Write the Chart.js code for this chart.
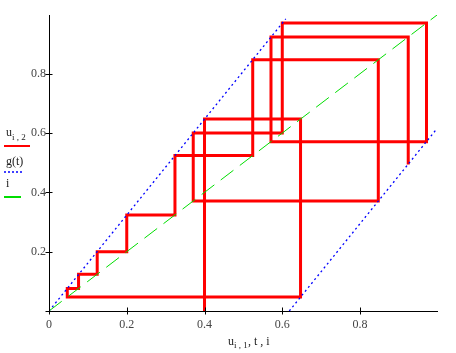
<!DOCTYPE html>
<html>
<head>
<meta charset="utf-8">
<script src="https://cdn.jsdelivr.net/npm/chart.js@4/dist/chart.umd.min.js"></script>
<style>
  html, body { margin: 0; padding: 0; background: #fff; }
  #wrap { position: relative; width: 456px; height: 353px; }
  canvas { display: block; }
</style>
</head>
<body>
<div id="wrap"><canvas id="c" width="456" height="353"></canvas></div>
<script>
// ---- data ----
// red cobweb path u(i,1) vs u(i,2)
const uX = [0.4, 0.4, 0.647, 0.647, 0.047, 0.047, 0.076, 0.076, 0.124, 0.124, 0.2, 0.2, 0.324, 0.324, 0.524, 0.524, 0.847, 0.847, 0.371, 0.371, 0.6, 0.6, 0.971, 0.971, 0.571, 0.571, 0.924, 0.924];
const uY = [0, 0.647, 0.647, 0.047, 0.047, 0.076, 0.076, 0.124, 0.124, 0.2, 0.2, 0.324, 0.324, 0.524, 0.524, 0.847, 0.847, 0.371, 0.371, 0.6, 0.6, 0.971, 0.971, 0.571, 0.571, 0.924, 0.924, 0.494];
// blue dotted g(t) (break at the jump)
const gT = [0, 0.609, 0.614, 0.618, 0.998];
const gY = [0, 0.985, null, 0, 0.615];
// green dashed diagonal i
const iX = [0, 0.998];
const iY = [0, 0.998];
// tick values and labels
const xTicks = [0, 0.2, 0.4, 0.6, 0.8];
const xTickLabels = ["0", "0.2", "0.4", "0.6", "0.8"];
const yTicks = [0, 0.2, 0.4, 0.6, 0.8];
const yTickLabels = ["", "0.2", "0.4", "0.6", "0.8"];
const axisMax = 0.998;

const pts = (xs, ys) => xs.map((x, k) => ({ x: x, y: ys[k] }));

const SERIF = "'Liberation Serif', 'Times New Roman', serif";

const tickPlugin = {
  id: 'crossTicks',
  afterDraw(chart) {
    const ctx = chart.ctx;
    const xs = chart.scales.x, ys = chart.scales.y;
    const a = chart.chartArea;
    ctx.save();
    ctx.strokeStyle = '#000';
    ctx.lineWidth = 1;
    ctx.beginPath();
    xs.ticks.forEach(t => {
      const px = Math.round(xs.getPixelForValue(t.value)) + 0.5;
      ctx.moveTo(px, a.bottom - 3.5);
      ctx.lineTo(px, a.bottom + 3.5);
    });
    ys.ticks.forEach(t => {
      const py = Math.round(ys.getPixelForValue(t.value)) + 0.5;
      ctx.moveTo(a.left - 3.5, py);
      ctx.lineTo(a.left + 3.5, py);
    });
    ctx.stroke();

    // legend (left side)
    ctx.fillStyle = '#222';
    ctx.textBaseline = 'alphabetic';
    ctx.textAlign = 'left';
    ctx.font = '12px ' + SERIF;
    ctx.fillText('u', 6, 136);
    ctx.font = '9px ' + SERIF;
    ctx.fillText('i , 2', 12, 140);
    ctx.font = '12px ' + SERIF;
    ctx.fillText('g(t)', 6, 165);
    ctx.fillText('i', 6, 187);

    ctx.lineWidth = 2;
    ctx.strokeStyle = '#ff0000';
    ctx.beginPath(); ctx.moveTo(4, 146); ctx.lineTo(30, 146); ctx.stroke();
    ctx.strokeStyle = '#0000ff';
    ctx.setLineDash([2, 2]);
    ctx.lineWidth = 1.5;
    ctx.beginPath(); ctx.moveTo(4, 172); ctx.lineTo(24, 172); ctx.stroke();
    ctx.setLineDash([]);
    ctx.strokeStyle = '#00dd00';
    ctx.lineWidth = 2;
    ctx.beginPath(); ctx.moveTo(4, 197); ctx.lineTo(21, 197); ctx.stroke();

    // x axis title
    ctx.fillStyle = '#222';
    ctx.font = '12px ' + SERIF;
    ctx.fillText('u', 228, 345);
    ctx.font = '9px ' + SERIF;
    ctx.fillText('i , 1', 234, 348);
    ctx.font = '12px ' + SERIF;
    ctx.fillText(', t , i', 248, 345);
    ctx.restore();
  }
};

new Chart(document.getElementById('c'), {
  type: 'scatter',
  data: {
    datasets: [
      { label: 'u', data: pts(uX, uY), showLine: true, borderColor: '#ff0000', borderWidth: 3,
        pointRadius: 0, tension: 0, order: 3, borderJoinStyle: 'miter', borderCapStyle: 'butt' },
      { label: 'g(t)', data: pts(gT, gY), showLine: true, borderColor: '#0000ff', borderWidth: 1.3,
        borderDash: [2, 3], pointRadius: 0, spanGaps: false, order: 2 },
      { label: 'i', data: pts(iX, iY), showLine: true, borderColor: '#00dd00', borderWidth: 1,
        borderDash: [16, 8], pointRadius: 0, order: 1 }
    ]
  },
  options: {
    responsive: false,
    animation: false,
    events: [],
    layout: { padding: { top: 15, right: 19, left: 0, bottom: 0 } },
    plugins: { legend: { display: false }, tooltip: { enabled: false }, title: { display: false } },
    scales: {
      x: {
        type: 'linear', min: 0, max: axisMax,
        afterFit(s) { s.height = 42; },
        afterBuildTicks(s) { s.ticks = xTicks.map(v => ({ value: v })); },
        grid: { display: false, drawTicks: false, tickLength: 0 },
        border: { display: true, color: '#000', width: 1 },
        ticks: {
          padding: 7, color: '#444', maxRotation: 0, autoSkip: false,
          font: { family: SERIF, size: 12 },
          callback: (v, idx) => xTickLabels[idx]
        }
      },
      y: {
        type: 'linear', min: 0, max: axisMax,
        afterFit(s) { s.width = 49; },
        afterBuildTicks(s) { s.ticks = yTicks.map(v => ({ value: v })); },
        grid: { display: false, drawTicks: false, tickLength: 0 },
        border: { display: true, color: '#000', width: 1 },
        ticks: {
          padding: 3, color: '#444', autoSkip: false,
          font: { family: SERIF, size: 12 },
          callback: (v, idx) => yTickLabels[idx]
        }
      }
    }
  },
  plugins: [tickPlugin]
});
</script>
</body>
</html>
